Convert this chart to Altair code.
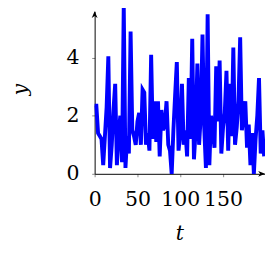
import altair as alt
import pandas as pd

t_values = list(range(0, 200, 2))
y_values = [
    2.35, 2.35, 1.4, 1.3, 1.2, 0.3, 1.3, 2.3, 4.05, 0.2,
    1.0, 2.2, 3.1, 0.3, 1.4, 2.0, 0.4, 5.8, 0.2, 1.3,
    0.7, 4.9, 1.5, 1.3, 1.0, 1.8, 2.1, 1.0, 2.9, 2.8,
    1.0, 1.4, 0.8, 4.1, 1.2, 2.5, 1.1, 2.5, 0.6, 2.2,
    1.5, 1.7, 2.5, 1.0, 0.8, 0.0, 1.5, 2.7, 3.85, 0.8,
    1.4, 3.1, 1.0, 1.5, 0.6, 3.3, 1.2, 4.65, 0.5, 1.5,
    3.8, 1.0, 2.0, 4.8, 1.6, 0.2, 5.5, 0.3, 2.0, 1.5,
    0.9, 3.7, 1.8, 3.9, 0.7, 1.6, 2.1, 3.55, 0.8, 3.1,
    1.3, 4.35, 1.0, 1.6, 2.5, 4.7, 1.5, 2.0, 2.5, 0.9,
    1.7, 0.3, 1.4, 0.0, 1.2, 2.0, 3.3, 0.7, 1.5, 0.6,
]
x_ticks = [0, 50, 100, 150]
y_ticks = [0, 2, 4]
x_max = 199
y_max = 5.6

df = pd.DataFrame({"t": t_values, "y": y_values})

FONT = "DejaVu Serif"

xscale = alt.Scale(domain=[0, x_max], nice=False, zero=False)
yscale = alt.Scale(domain=[0, y_max], nice=False, zero=False)

common = dict(
    grid=False,
    labelFont=FONT, labelFontSize=21, labelColor="black",
    tickSize=3, tickColor="#888888",
    domainColor="black", domainWidth=1,
    titleFont=FONT, titleFontSize=21, titleFontStyle="italic",
    titleFontWeight="normal", titleColor="black",
    titleBaseline="middle", titleAlign="center",
    labelFlush=False, labelOverlap=False,
)

xaxis = alt.Axis(values=x_ticks, title="t", labelPadding=13,
                 titleX=87, titleY=61, **common)
yaxis = alt.Axis(values=y_ticks, title="y", labelPadding=13,
                 titleX=-76, titleY=80, titleAngle=270, **common)

line = alt.Chart(df).mark_line(color="#0000ff", strokeWidth=4).encode(
    x=alt.X("t:Q", scale=xscale, axis=xaxis),
    y=alt.Y("y:Q", scale=yscale, axis=yaxis),
)

arrow_x = alt.Chart(pd.DataFrame({"t": [x_max], "y": [0]})).mark_point(
    shape="M0,0 L-3.5,-1.5 L-2.5,0 L-3.5,1.5 Z", filled=True,
    color="black", size=16, opacity=1, strokeWidth=0,
).encode(x=alt.X("t:Q", scale=xscale, axis=xaxis),
         y=alt.Y("y:Q", scale=yscale, axis=yaxis))

arrow_y = alt.Chart(pd.DataFrame({"t": [0], "y": [y_max]})).mark_point(
    shape="M0,0 L-1.5,3.5 L0,2.5 L1.5,3.5 Z", filled=True,
    color="black", size=16, opacity=1, strokeWidth=0,
).encode(x=alt.X("t:Q", scale=xscale, axis=xaxis),
         y=alt.Y("y:Q", scale=yscale, axis=yaxis))

chart = (
    alt.layer(line, arrow_x, arrow_y)
    .properties(
        width=175, height=167,
        autosize=alt.AutoSizeParams(type="none"),
        padding={"left": 89, "top": 0, "right": 0, "bottom": 78},
        background="white",
    )
    .configure_view(stroke=None)
    .configure_axis(
        labelFont=FONT, labelFontSize=21,
        titleFont=FONT, titleFontSize=21,
    )
)

chart.save("out.html", embed_options={"renderer": "svg", "actions": False})
